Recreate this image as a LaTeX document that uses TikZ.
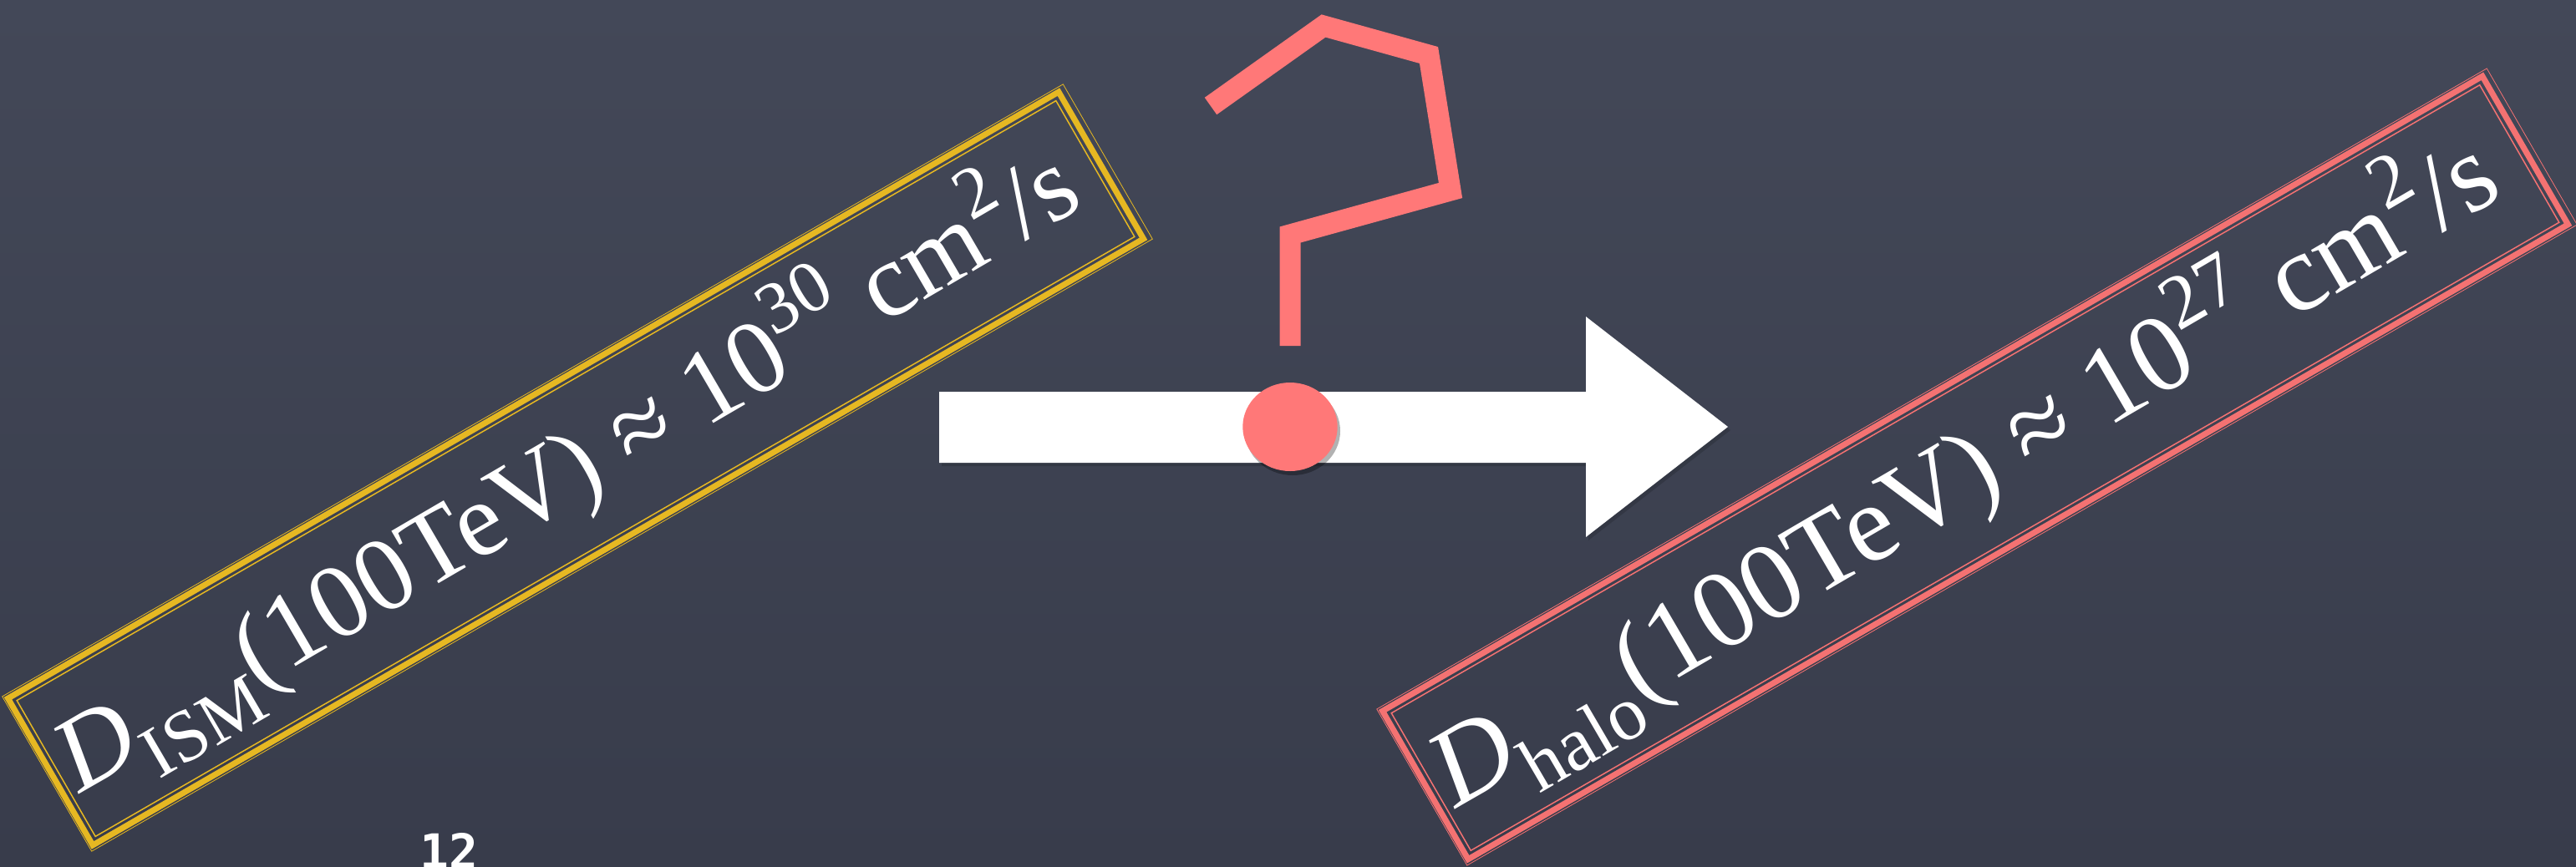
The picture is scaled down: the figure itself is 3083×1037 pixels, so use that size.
\documentclass[tikz,border=0pt]{standalone}
\usepackage{fontspec}
\setmainfont{Liberation Serif}
\newfontfamily\pagenumfont{DejaVu Sans Mono}
% #1 = script font size, #2 = text
\newcommand\mysup[2]{\raisebox{0.42em}{\fontsize{#1}{#1}\selectfont #2}}
\newcommand\mysub[2]{\raisebox{-0.27em}{\fontsize{#1}{#1}\selectfont #2}}
\definecolor{boardtop}{HTML}{434858}
\definecolor{boardbot}{HTML}{383C4B}
\definecolor{gold}{HTML}{E6B822}
\definecolor{qred}{HTML}{FF7878}
\definecolor{boxred}{HTML}{F47272}
\begin{document}
\begin{tikzpicture}[x=1pt,y=-1pt,
  every node/.style={inner sep=0pt, outer sep=0pt},
  framemain/.style={draw=#1, line width=7pt, rotate=30},
  framethin/.style={draw=#1, line width=1.5pt, rotate=30},
  formula/.style={text=white, anchor=base west, rotate=30.3},
  qmark/.style={draw=qred, line width=25pt, line join=miter, line cap=butt},
]
\useasboundingbox (0,0) rectangle (3083,1037);
\clip (0,0) rectangle (3083,1037);
% chalkboard
\shade[top color=boardtop, bottom color=boardbot] (0,0) rectangle (3083,1037);

% left box (ISM)
\node[framemain=gold, minimum width=1452pt, minimum height=203pt] (ismbox) at (689,561) {};
\node[framethin=gold, minimum width=1436pt, minimum height=188pt] (ismboxin) at (689,561) {};
\node[framethin=gold, line width=0.8pt, minimum width=1466pt, minimum height=214pt] (ismboxout) at (691,560) {};
\node[formula, font=\fontsize{126}{140}\selectfont] (ismtext) at (95,950)
  {\itshape D\upshape\mysub{88}{ISM}(100TeV) ≈ 10\mysup{88}{30} cm\mysup{88}{2}/s};

% right box (halo)
\node[framemain=boxred, minimum width=1520pt, minimum height=205pt] (halobox) at (2364,560) {};
\node[framethin=boxred, minimum width=1504pt, minimum height=190pt] (haloboxin) at (2364,560) {};
\node[framethin=boxred, line width=0.8pt, minimum width=1534pt, minimum height=216pt] (haloboxout) at (2366,559) {};
\node[formula, font=\fontsize{132}{145}\selectfont] (halotext) at (1742,968)
  {\itshape D\upshape\mysub{92}{halo}(100TeV) ≈ 10\mysup{92}{27} cm\mysup{92}{2}/s};

% big arrow
\coordinate (arrowtail) at (1124,511);
\coordinate (arrowtip) at (2068,511);
\fill[black, opacity=0.15] (1127,473) -- (1901,473) -- (1901,383) -- (2071,515) -- (1901,647) -- (1901,558) -- (1127,558) -- cycle;
\fill[white] (arrowtail) ++(0,-42) -- (1898,469) -- (1898,379) -- (arrowtip) -- (1898,643) -- (1898,554) -- (1124,554) -- cycle;

% question mark
\draw[qmark] (1544,414) -- (1544,281) -- (1736,228) -- (1710,66) -- (1584,31) -- (1449,127);
\fill[black, opacity=0.3] (1547,516) ellipse [x radius=57pt, y radius=53pt];
\node[fill=qred, circle, minimum size=106pt, xscale=1.07] (qdot) at (1544,511) {};

% page number
\node[text=white, anchor=base, font=\pagenumfont\bfseries\fontsize{58}{60}\selectfont] (pagenum) at (537,1040) {12};
\end{tikzpicture}
\end{document}
